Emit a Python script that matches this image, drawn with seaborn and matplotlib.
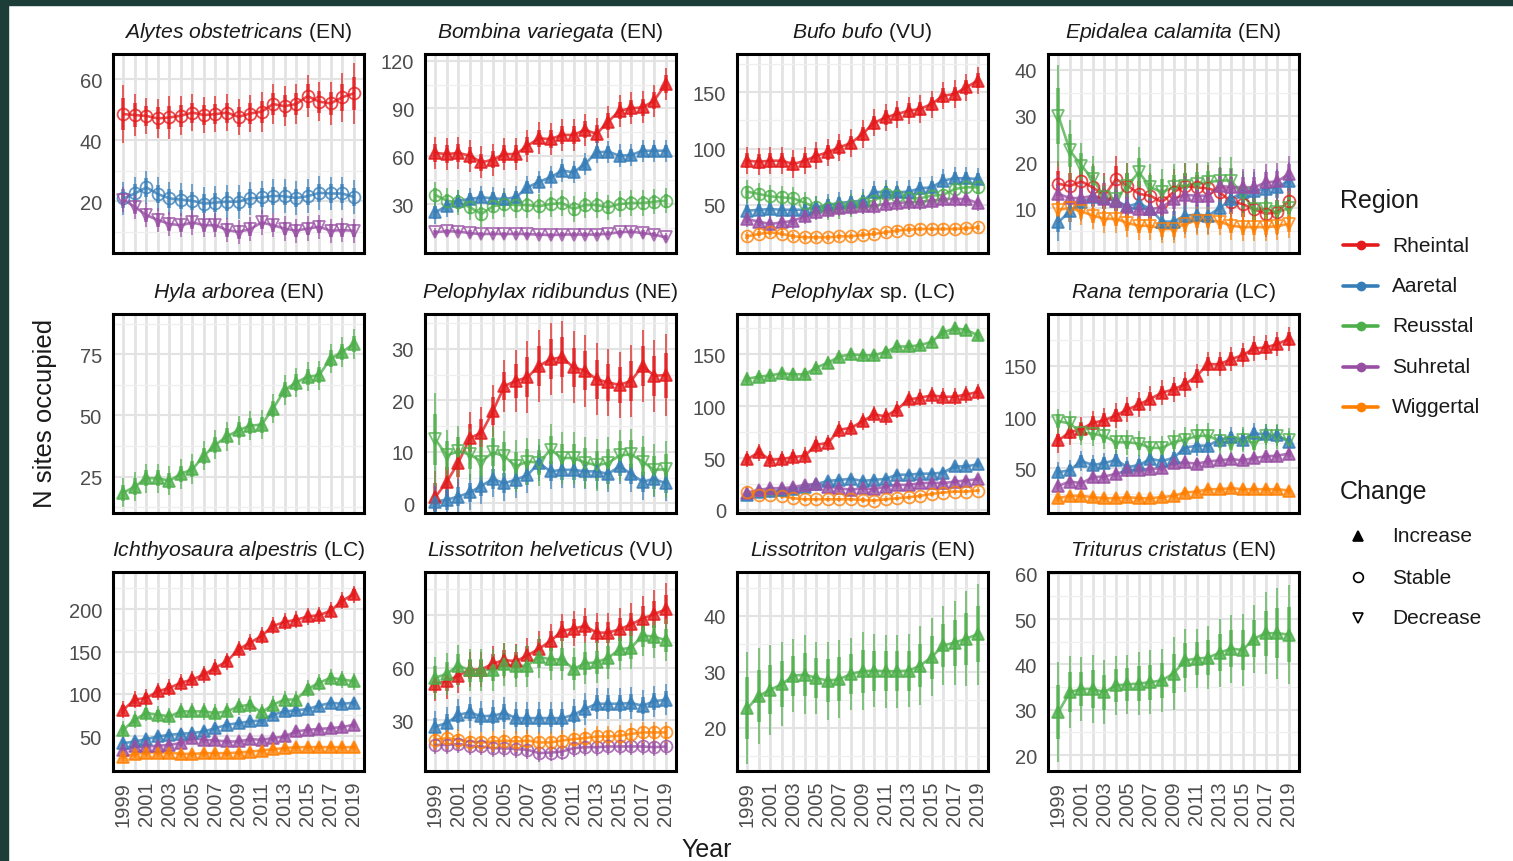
import numpy as np
import pandas as pd
import seaborn as sns
import matplotlib.pyplot as plt
from matplotlib.lines import Line2D
from matplotlib.patches import Rectangle

# ---- data -------------------------------------------------------------
years = list(range(1999, 2020))
regions = ["Rheintal", "Aaretal", "Reusstal", "Suhretal", "Wiggertal"]
region_colors = ["#E41A1C", "#377EB8", "#4DAF4A", "#984EA3", "#FF7F00"]
changes = ["Increase", "Stable", "Decrease"]

species = ["Alytes obstetricans", "Bombina variegata", "Bufo bufo", "Epidalea calamita",
           "Hyla arborea", "Pelophylax ridibundus", "Pelophylax", "Rana temporaria",
           "Ichthyosaura alpestris", "Lissotriton helveticus", "Lissotriton vulgaris",
           "Triturus cristatus"]
suffixes = ["(EN)", "(EN)", "(VU)", "(EN)", "(EN)", "(NE)", "sp. (LC)", "(LC)",
            "(LC)", "(VU)", "(EN)", "(EN)"]

alytes_rhe = [48.5, 48.2, 47.9, 47.1, 47.4, 48.0, 49.0, 48.2, 48.5, 49.0, 47.6, 48.7, 49.3, 51.8, 51.1, 51.8, 54.4, 52.6, 52.0, 54.0, 55.3]
alytes_aar = [20.9, 22.5, 24.5, 22.3, 20.9, 20.5, 20.1, 19.2, 19.5, 19.8, 19.8, 20.9, 21.2, 21.7, 21.6, 21.0, 21.6, 22.7, 22.5, 22.5, 21.4]
alytes_suh = [20.5, 18.1, 15.4, 13.8, 12.5, 12.1, 13.0, 12.1, 12.1, 10.5, 9.9, 10.8, 13.0, 12.1, 11.0, 10.3, 11.0, 11.6, 10.3, 10.5, 10.3]

bombina_rhe = [62.1, 61.4, 62.1, 60.4, 56.2, 57.9, 61.4, 61.4, 66.6, 71.3, 70.8, 73.4, 73.4, 76.7, 74.0, 81.7, 88.6, 90.1, 90.7, 94.9, 105.4]
bombina_aar = [24.8, 29.0, 32.1, 33.2, 34.3, 33.6, 33.2, 34.3, 40.5, 44.0, 46.8, 51.0, 50.0, 55.2, 62.5, 62.9, 60.4, 60.8, 63.5, 63.5, 63.5]
bombina_reu = [35.7, 32.1, 31.1, 28.0, 23.8, 28.6, 30.0, 29.4, 29.4, 28.6, 30.0, 30.7, 26.9, 29.4, 29.4, 28.0, 30.0, 30.7, 30.7, 31.5, 32.1]
bombina_suh = [12.3, 13.0, 12.7, 11.8, 11.1, 11.4, 11.1, 11.4, 11.1, 10.9, 10.5, 10.9, 10.9, 10.9, 10.9, 11.4, 12.3, 12.7, 11.8, 10.9, 9.1]

bufo_rhe = [89.3, 88.4, 89.3, 89.3, 86.4, 89.3, 93.7, 96.8, 101.2, 105.0, 113.0, 122.8, 127.8, 130.7, 133.7, 135.2, 139.6, 147.0, 148.5, 154.4, 160.3]
bufo_aar = [44.9, 45.8, 46.4, 45.8, 45.8, 45.8, 48.0, 50.0, 51.8, 52.9, 53.8, 61.3, 61.8, 61.3, 61.8, 64.8, 65.7, 71.6, 73.7, 73.7, 73.0]
bufo_reu = [61.8, 59.8, 57.7, 56.8, 55.9, 51.8, 48.0, 47.1, 48.0, 49.4, 51.8, 53.8, 59.8, 57.7, 55.9, 55.9, 58.3, 58.9, 64.2, 65.7, 65.7]
bufo_suh = [37.6, 35.2, 33.1, 34.6, 36.0, 40.0, 44.1, 45.8, 47.1, 48.0, 48.8, 49.4, 50.9, 51.8, 52.4, 52.9, 53.8, 55.3, 55.3, 55.3, 51.8]
bufo_wig = [22.2, 24.3, 25.8, 24.3, 22.2, 21.3, 21.3, 21.3, 22.2, 22.2, 23.4, 24.3, 25.8, 27.2, 28.1, 28.7, 28.7, 28.7, 28.7, 29.3, 30.2]

epidalea_rhe = [15.3, 14.8, 15.8, 14.5, 12.7, 16.3, 14.9, 13.1, 12.7, 11.3, 13.5, 14.8, 14.5, 14.3, 13.5, 11.4, 10.9, 9.8, 8.8, 9.1, 11.6]
epidalea_aar = [7.0, 9.3, 11.3, 12.4, 12.2, 11.6, 10.4, 11.1, 9.8, 7.1, 7.1, 8.4, 8.6, 8.4, 10.0, 12.0, 13.5, 13.8, 14.2, 14.5, 16.0]
epidalea_reu = [30.0, 22.5, 19.2, 16.3, 12.4, 12.0, 14.9, 17.8, 14.5, 13.5, 14.5, 14.9, 15.3, 15.6, 16.0, 16.0, 13.0, 9.8, 9.8, 9.1, 10.0]
epidalea_suh = [13.1, 12.2, 12.2, 12.7, 12.0, 11.6, 10.2, 9.8, 9.8, 10.2, 12.0, 12.9, 12.7, 12.7, 14.9, 14.5, 14.5, 14.5, 15.6, 15.8, 17.4]
epidalea_wig = [9.7, 10.0, 9.3, 8.4, 7.7, 7.7, 6.8, 6.2, 6.2, 5.5, 5.5, 6.6, 7.3, 7.3, 7.1, 6.2, 5.9, 5.9, 5.9, 6.1, 6.6]

hyla_reu = [18.4, 20.9, 24.3, 24.3, 23.3, 26.1, 28.0, 33.5, 38.0, 41.4, 43.9, 45.8, 46.2, 52.7, 60.3, 63.4, 65.8, 66.4, 73.2, 75.9, 79.1]

ridib_rhe = [1.2, 4.2, 7.9, 12.7, 13.7, 17.9, 22.8, 23.8, 24.5, 26.7, 28.0, 28.4, 26.4, 25.8, 24.1, 23.5, 23.0, 23.8, 26.7, 24.8, 24.9]
ridib_aar = [0.3, 0.7, 1.3, 2.1, 3.4, 4.7, 3.9, 4.6, 5.5, 7.8, 6.2, 6.5, 6.5, 6.2, 6.2, 5.7, 7.2, 5.7, 4.2, 4.7, 3.9]
ridib_reu = [12.4, 9.3, 10.1, 9.5, 8.1, 9.9, 9.1, 7.2, 8.1, 7.9, 10.4, 8.8, 8.8, 7.9, 7.4, 7.8, 9.3, 9.5, 8.1, 6.5, 6.6]

pelsp_reu = [126.5, 128.4, 129.7, 131.7, 130.7, 130.7, 137.2, 142.0, 147.8, 150.0, 149.0, 149.0, 152.3, 157.5, 157.5, 158.8, 162.0, 171.0, 174.9, 173.6, 168.4]
pelsp_rhe = [49.1, 55.5, 48.4, 49.1, 51.0, 52.3, 62.9, 64.6, 77.4, 79.1, 85.5, 92.0, 90.3, 96.8, 106.5, 108.2, 110.4, 109.1, 109.1, 111.3, 113.6]
pelsp_aar = [14, 17, 18, 19, 20, 22, 25, 28, 29, 30, 28, 29, 30, 34, 34, 35, 35, 36, 42, 42, 44]
pelsp_suh = [16.8, 19.4, 21.0, 21.0, 22.0, 24.2, 25.2, 22.6, 21.0, 19.4, 21.0, 20.0, 22.6, 24.2, 24.2, 25.8, 26.4, 25.8, 27.4, 28.4, 29.7]
pelsp_wig = [17.7, 14.5, 14.5, 13.6, 11.3, 10.3, 10.3, 10.3, 10.3, 10.3, 9.7, 9.0, 10.3, 11.3, 12.3, 13.6, 15.5, 16.8, 17.7, 17.7, 18.7]

rana_rhe = [77.2, 85.1, 88.4, 94.3, 96.9, 101.5, 107.4, 112.3, 117.9, 123.8, 127.1, 132.0, 140.2, 151.7, 151.7, 156.6, 160.5, 167.1, 168.1, 171.3, 176.3]
rana_reu = [95.9, 93.7, 84.5, 83.8, 81.2, 75.3, 75.3, 74.0, 69.8, 69.8, 75.3, 77.9, 81.2, 81.9, 76.3, 74.7, 77.9, 74.7, 81.2, 81.2, 77.2]
rana_aar = [46, 48, 57, 53, 55, 58, 51, 53, 59, 57, 60, 70, 72, 72, 78, 80, 78, 84, 83, 82, 76]
rana_suh = [32.7, 36.9, 35.3, 41.2, 41.8, 44.5, 47.7, 48.4, 49.0, 50.1, 55.0, 55.6, 54.3, 56.6, 57.6, 58.9, 57.6, 59.9, 61.5, 62.2, 64.2]
rana_wig = [20.6, 22.9, 22.9, 21.6, 20.6, 20.6, 21.6, 20.6, 20.6, 21.6, 22.9, 26.1, 27.1, 29.4, 29.4, 30.4, 29.4, 29.4, 29.4, 29.4, 28.1]

ichth_rhe = [81.5, 93.4, 95.4, 103.2, 107.2, 113.2, 117.1, 123.0, 130.9, 138.7, 152.6, 160.5, 168.4, 180.2, 185.0, 187.4, 191.4, 192.9, 198.0, 209.8, 217.8]
ichth_reu = [57.8, 69.7, 77.6, 75.6, 73.6, 79.5, 79.5, 79.5, 77.6, 79.5, 85.4, 87.4, 78.3, 87.4, 93.4, 93.4, 106.0, 113.2, 119.1, 117.1, 115.1]
ichth_aar = [42.0, 44.0, 46.8, 49.9, 51.9, 53.1, 53.9, 55.8, 59.8, 63.7, 65.7, 67.7, 68.8, 75.6, 79.5, 80.7, 82.3, 86.3, 89.5, 88.6, 89.5]
ichth_suh = [34.1, 38.1, 38.1, 38.9, 40.1, 42.0, 48.0, 46.0, 45.2, 44.0, 44.0, 46.8, 46.0, 48.0, 49.9, 55.8, 57.8, 58.7, 59.8, 61.0, 63.7]
ichth_wig = [26.2, 29.4, 31.0, 31.0, 31.0, 29.4, 29.4, 30.2, 30.2, 30.2, 31.0, 32.1, 33.3, 35.0, 36.1, 37.3, 37.3, 37.3, 37.3, 37.3, 37.3]

helv_rhe = [51.0, 52.3, 55.6, 59.0, 59.0, 62.5, 64.4, 63.8, 67.1, 70.9, 75.3, 81.0, 82.4, 83.9, 80.1, 80.1, 82.0, 84.8, 88.1, 90.6, 93.4]
helv_reu = [54.3, 56.7, 61.3, 58.6, 58.6, 59.0, 61.9, 60.9, 61.3, 66.3, 64.8, 64.8, 59.4, 62.5, 63.2, 65.7, 70.5, 71.5, 78.5, 77.8, 75.8]
helv_aar = [26.5, 28.5, 33.2, 34.6, 32.3, 32.7, 34.2, 31.3, 31.3, 31.3, 31.3, 31.3, 33.2, 36.5, 39.5, 39.5, 39.5, 39.9, 38.4, 40.9, 41.8]
helv_wig = [18.9, 19.9, 18.9, 17.9, 17.4, 17.9, 18.5, 17.9, 18.5, 17.4, 17.4, 18.5, 19.3, 19.9, 20.8, 20.8, 21.2, 22.3, 23.1, 23.1, 23.1]
helv_suh = [16.0, 16.0, 16.6, 15.5, 15.1, 14.1, 14.1, 13.6, 13.2, 11.3, 11.6, 12.2, 14.1, 14.7, 14.7, 15.1, 15.1, 15.1, 15.1, 14.7, 15.1]

vulg_reu = [23.5, 25.7, 26.8, 27.8, 29.3, 29.5, 28.9, 28.4, 28.7, 29.6, 30.1, 30.2, 30.1, 30.1, 30.2, 31.1, 32.6, 34.7, 35.2, 35.9, 36.7]
trit_reu = [29.5, 33.9, 34.6, 34.6, 33.9, 35.4, 35.6, 35.8, 36.1, 36.5, 38.0, 40.9, 41.3, 41.5, 42.6, 43.5, 43.2, 45.7, 46.9, 46.9, 46.6]

# error half-widths (outer interval), scalar or per year
alytes_rhe_err = [9.5, 7, 6, 6.5, 7, 6.5, 6, 6, 6, 6, 6, 6, 6.5, 6.5, 6.5, 6.5, 7, 6.5, 7, 8, 10]
epidalea_reu_err = [11, 6.5, 5, 5, 4.5, 4.5, 5, 5.5, 5, 5, 5, 5, 4.5, 4.5, 5, 5, 5, 4.5, 4.5, 4.5, 4.5]
ridib_rhe_err = [5, 5, 5, 5, 5, 5, 5, 6, 7, 7, 7, 7, 7, 7, 7, 6.5, 6.5, 7, 7, 7, 8]
ridib_reu_err = [9, 5, 5, 5, 5, 5, 5, 5, 4.5, 4.5, 5, 5, 5, 5, 5, 5, 5, 5, 5, 5, 5.5]
helv_rhe_err = [10, 10, 10, 10, 10, 10, 10, 10, 10, 10, 10, 10, 10, 10, 11, 11, 12, 12, 13, 14, 15]
vulg_reu_err = [10, 8.5, 8, 7.5, 6.5, 7, 6.5, 7, 7, 6.5, 7, 6.5, 6.5, 6.5, 6.5, 7, 7, 7, 7.5, 8.5, 9]
trit_reu_err = [11, 8, 7, 7.5, 7, 6.5, 6.5, 7, 7, 7, 8, 7, 6.5, 7, 7.5, 7.5, 8, 7.5, 9, 10, 11]

# (species, region, change, values, err)
series = [
    ("Alytes obstetricans", "Rheintal", "Stable", alytes_rhe, alytes_rhe_err),
    ("Alytes obstetricans", "Aaretal", "Stable", alytes_aar, 5.5),
    ("Alytes obstetricans", "Suhretal", "Decrease", alytes_suh, 4),
    ("Bombina variegata", "Rheintal", "Increase", bombina_rhe, 10),
    ("Bombina variegata", "Aaretal", "Increase", bombina_aar, 7),
    ("Bombina variegata", "Reusstal", "Stable", bombina_reu, 8),
    ("Bombina variegata", "Suhretal", "Decrease", bombina_suh, 3),
    ("Bufo bufo", "Rheintal", "Increase", bufo_rhe, 12),
    ("Bufo bufo", "Aaretal", "Increase", bufo_aar, 10),
    ("Bufo bufo", "Reusstal", "Stable", bufo_reu, 10),
    ("Bufo bufo", "Suhretal", "Increase", bufo_suh, 7),
    ("Bufo bufo", "Wiggertal", "Stable", bufo_wig, 4),
    ("Epidalea calamita", "Rheintal", "Stable", epidalea_rhe, 5),
    ("Epidalea calamita", "Aaretal", "Increase", epidalea_aar, 4),
    ("Epidalea calamita", "Reusstal", "Decrease", epidalea_reu, epidalea_reu_err),
    ("Epidalea calamita", "Suhretal", "Increase", epidalea_suh, 4),
    ("Epidalea calamita", "Wiggertal", "Decrease", epidalea_wig, 3),
    ("Hyla arborea", "Reusstal", "Increase", hyla_reu, 6),
    ("Pelophylax ridibundus", "Rheintal", "Increase", ridib_rhe, ridib_rhe_err),
    ("Pelophylax ridibundus", "Aaretal", "Increase", ridib_aar, 3.5),
    ("Pelophylax ridibundus", "Reusstal", "Decrease", ridib_reu, ridib_reu_err),
    ("Pelophylax", "Rheintal", "Increase", pelsp_rhe, 8),
    ("Pelophylax", "Aaretal", "Increase", pelsp_aar, 4),
    ("Pelophylax", "Reusstal", "Increase", pelsp_reu, 6),
    ("Pelophylax", "Suhretal", "Increase", pelsp_suh, 4),
    ("Pelophylax", "Wiggertal", "Stable", pelsp_wig, 3),
    ("Rana temporaria", "Rheintal", "Increase", rana_rhe, 12),
    ("Rana temporaria", "Aaretal", "Increase", rana_aar, 10),
    ("Rana temporaria", "Reusstal", "Decrease", rana_reu, 12),
    ("Rana temporaria", "Suhretal", "Increase", rana_suh, 6),
    ("Rana temporaria", "Wiggertal", "Increase", rana_wig, 4),
    ("Ichthyosaura alpestris", "Rheintal", "Increase", ichth_rhe, 10),
    ("Ichthyosaura alpestris", "Aaretal", "Increase", ichth_aar, 7),
    ("Ichthyosaura alpestris", "Reusstal", "Increase", ichth_reu, 10),
    ("Ichthyosaura alpestris", "Suhretal", "Increase", ichth_suh, 6),
    ("Ichthyosaura alpestris", "Wiggertal", "Increase", ichth_wig, 5),
    ("Lissotriton helveticus", "Rheintal", "Increase", helv_rhe, helv_rhe_err),
    ("Lissotriton helveticus", "Aaretal", "Increase", helv_aar, 9),
    ("Lissotriton helveticus", "Reusstal", "Increase", helv_reu, 12),
    ("Lissotriton helveticus", "Suhretal", "Stable", helv_suh, 5),
    ("Lissotriton helveticus", "Wiggertal", "Stable", helv_wig, 6),
    ("Lissotriton vulgaris", "Reusstal", "Increase", vulg_reu, vulg_reu_err),
    ("Triturus cristatus", "Reusstal", "Increase", trit_reu, trit_reu_err),
]

y_limits = [(3.0, 68.2), (-0.7, 124.2), (7.4, 184), (0.3, 43.4),
            (10.1, 91.4), (-1.9, 36.8), (-2.9, 188.8), (6.1, 200.8),
            (9.2, 243.8), (1.1, 114.7), (12.3, 47.8), (16.5, 60.4)]
y_ticks = [[20, 40, 60], [30, 60, 90, 120], [50, 100, 150], [10, 20, 30, 40],
           [25, 50, 75], [0, 10, 20, 30], [0, 50, 100, 150], [50, 100, 150],
           [50, 100, 150, 200], [30, 60, 90], [20, 30, 40], [20, 30, 40, 50, 60]]

rows = []
for sp, reg, chg, vals, err in series:
    e = np.broadcast_to(np.asarray(err, dtype=float), (len(years),))
    for yr, v, ee in zip(years, vals, e):
        rows.append({"species": sp, "region": reg, "change": chg, "year": yr,
                     "n": v, "lo": v - ee, "hi": v + ee, "lo2": v - 0.55 * ee, "hi2": v + 0.55 * ee})
df = pd.DataFrame(rows)

# ---- style ------------------------------------------------------------
sns.set_theme(style="white")
plt.rcParams["font.family"] = ["Liberation Sans", "DejaVu Sans"]
plt.rcParams["mathtext.fontset"] = "custom"
plt.rcParams["mathtext.rm"] = "Liberation Sans"
plt.rcParams["mathtext.it"] = "Liberation Sans:italic"

palette = dict(zip(regions, region_colors))
marker_style = {"Increase": ("^", True), "Stable": ("o", False), "Decrease": ("v", False)}

W, H = 1513, 862
def fx(x):
    return x / W
def fy(y):
    return 1 - y / H

fig = plt.figure(figsize=(W / 100, H / 100), dpi=100)
fig.patch.set_facecolor("white")

col_left = [113, 425, 737, 1048]
row_top = [55, 315, 573]
ax_w, ax_h = 251, 199
ALPHA = 0.78

for i, sp in enumerate(species):
    r, c = divmod(i, 4)
    ax = fig.add_axes([fx(col_left[c]), fy(row_top[r] + ax_h), ax_w / W, ax_h / H])
    sub = df[df["species"] == sp]
    present = [g for g in regions if g in set(sub["region"])]

    sns.lineplot(data=sub, x="year", y="n", hue="region", hue_order=present,
                 palette=palette, legend=False, errorbar=None, ax=ax,
                 linewidth=1.9, alpha=ALPHA, zorder=3)
    for reg in present:
        s = sub[sub["region"] == reg]
        col = palette[reg]
        ax.vlines(s["year"], s["lo"], s["hi"], color=col, lw=1.2, alpha=ALPHA, zorder=2)
        ax.vlines(s["year"], s["lo2"], s["hi2"], color=col, lw=2.6, alpha=ALPHA, zorder=2)
        mk, filled = marker_style[s["change"].iloc[0]]
        ax.plot(s["year"], s["n"], linestyle="none", marker=mk,
                markersize=9 if mk != "o" else 8.5,
                markerfacecolor=col if filled else "none",
                markeredgecolor=col, markeredgewidth=1.3, alpha=ALPHA, zorder=4)

    ticks = y_ticks[i]
    step = ticks[1] - ticks[0]
    ax.set_yticks(ticks)
    ax.set_yticks(np.arange(ticks[0] - step / 2, ticks[-1] + step, step), minor=True)
    ax.set_xticks(years)
    ax.set_xticklabels([str(y) if y % 2 == 1 else "" for y in years])
    # limits last, so the tick setters cannot widen them
    ax.set_xlim(1998.1, 2019.9)
    ax.set_ylim(*y_limits[i])
    ax.set_xlabel("")
    ax.set_ylabel("")

    ax.set_axisbelow(True)
    ax.xaxis.grid(True, color="#e3e3e3", lw=2.0)
    ax.yaxis.grid(True, which="major", color="#e3e3e3", lw=1.5)
    ax.yaxis.grid(True, which="minor", color="#efefef", lw=0.9)

    ax.tick_params(which="both", length=0, labelsize=14.5, labelcolor="#4d4d4d", pad=8)
    ax.tick_params(axis="x", labelrotation=90, pad=7)
    if r < 2:
        ax.tick_params(axis="x", labelbottom=False)
    for s in ax.spines.values():
        s.set_visible(True)
        s.set_color("black")
        s.set_linewidth(2.2)

    title = r"$\mathit{" + sp.replace(" ", r"\ ") + "}$ " + suffixes[i]
    ax.set_title(title, fontsize=15.2, color="#1a1a1a", pad=12)

# axis titles
fig.text(fx(45), fy(413), "N sites occupied", rotation=90, ha="center", va="center",
         fontsize=18.5, color="#1a1a1a")
fig.text(fx(707), fy(850), "Year", ha="center", va="center", fontsize=18, color="#1a1a1a")

# legend: Region
fig.text(fx(1340), fy(201), "Region", ha="left", va="center", fontsize=18, color="#1a1a1a")
for k, (reg, col) in enumerate(zip(regions, region_colors)):
    yy = fy(246 + k * 40.5)
    fig.add_artist(Line2D([fx(1343), fx(1378)], [yy, yy], color=col, lw=2.6,
                          transform=fig.transFigure))
    fig.add_artist(Line2D([fx(1360.5)], [yy], color=col, marker="o", markersize=6,
                          linestyle="none", transform=fig.transFigure))
    fig.text(fx(1392), yy, reg, ha="left", va="center", fontsize=15, color="#1a1a1a")

# legend: Change
fig.text(fx(1340), fy(492), "Change", ha="left", va="center", fontsize=18, color="#1a1a1a")
for k, chg in enumerate(changes):
    yy = fy(537 + k * 41)
    mk, filled = marker_style[chg]
    fig.add_artist(Line2D([fx(1358)], [yy], marker=mk, markersize=7.5 if mk != "o" else 7,
                          markerfacecolor="black" if filled else "none",
                          markeredgecolor="black", markeredgewidth=1.2,
                          linestyle="none", transform=fig.transFigure))
    fig.text(fx(1392), yy, chg, ha="left", va="center", fontsize=15, color="#1a1a1a")

# dark frame of the screenshot
fig.add_artist(Rectangle((0, fy(6)), 1, 6 / H, transform=fig.transFigure,
                         color="#1d3d38", zorder=10))
fig.add_artist(Rectangle((0, 0), 8 / W, 1, transform=fig.transFigure,
                         color="#1d3d38", zorder=10))

fig.savefig("out.png", dpi=100)
